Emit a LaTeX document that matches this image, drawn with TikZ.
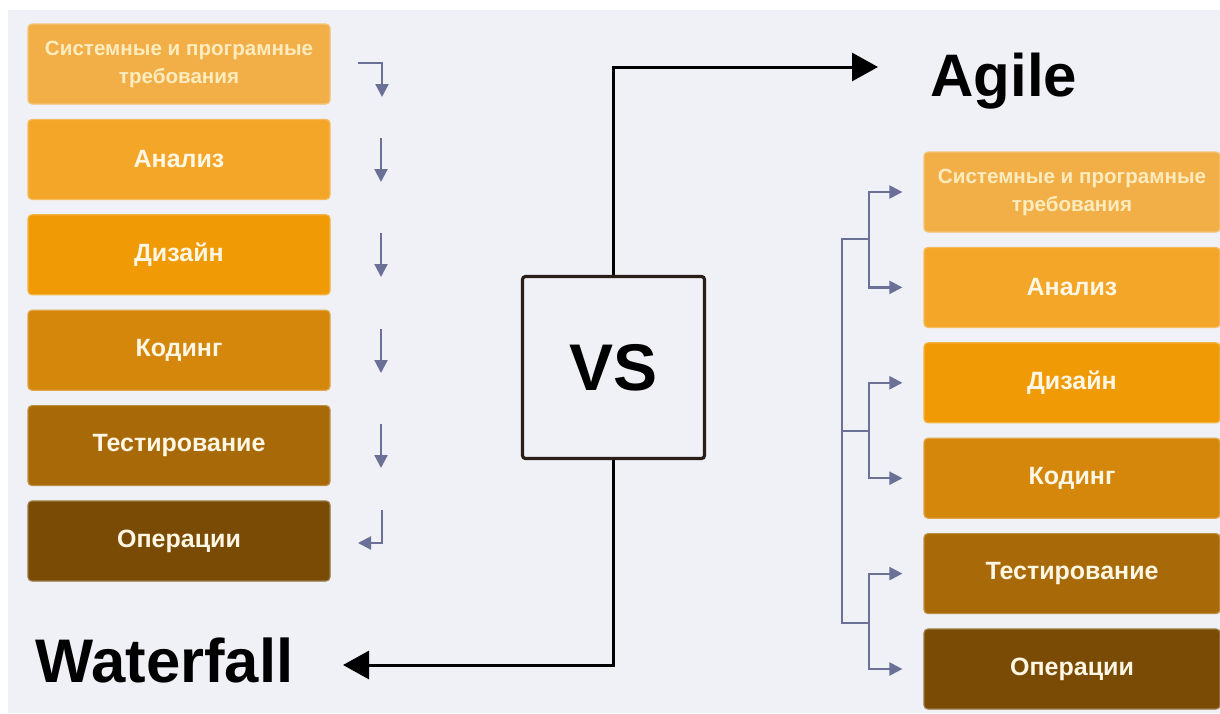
\documentclass[tikz,border=0pt]{standalone}
\usepackage{fontspec}
\setmainfont{Liberation Sans}
\usepackage{xcolor}
\usepackage{tikz}
\usetikzlibrary{positioning,calc,arrows.meta}

\definecolor{bgpanel}{RGB}{239,241,246}
\definecolor{stageA}{RGB}{242,175,72}
\definecolor{stageB}{RGB}{244,166,40}
\definecolor{stageC}{RGB}{240,154,6}
\definecolor{stageD}{RGB}{212,135,10}
\definecolor{stageE}{RGB}{168,106,8}
\definecolor{stageF}{RGB}{122,75,5}
\definecolor{stagetext}{RGB}{255,246,228}
\definecolor{firsttext}{RGB}{255,236,190}
\definecolor{flowcol}{RGB}{106,112,150}
\definecolor{vsline}{RGB}{40,32,24}

\begin{document}
\begin{tikzpicture}[
        x=0.5pt, y=-0.5pt,
        % stage boxes, colour given as argument
        stage/.style={
            rectangle,
            rounded corners=2pt,
            fill=#1,
            draw=#1!75!white,
            line width=0.6pt,
            minimum width=151pt,
            minimum height=40pt,
            inner sep=0pt,
            text=stagetext,
            font=\fontsize{12.5}{15}\selectfont\bfseries
        },
        % first stage has two lines
        firststage/.style={
            stage=stageA,
            text=firsttext,
            align=center,
            font=\fontsize{10.3}{14}\selectfont\bfseries
        },
        % the square in the middle
        vsbox/.style={
            rectangle,
            draw=vsline,
            fill=bgpanel,
            line width=1.6pt,
            rounded corners=1.5pt,
            minimum size=91pt,
            inner sep=0pt,
            font=\fontsize{33}{40}\selectfont\bfseries
        },
        % big titles
        title/.style={
            anchor=base west,
            inner sep=0pt,
            font=\fontsize{30}{36}\selectfont\bfseries
        },
        % black arrows from the square
        link/.style={
            draw=black,
            line width=1.5pt,
            -{Triangle[length=13pt,width=14pt]}
        },
        % small grey-blue arrows
        flow/.style={
            draw=flowcol,
            line width=1.1pt,
            -{Triangle[length=6.5pt,width=6.5pt]}
        },
        flowline/.style={
            draw=flowcol,
            line width=1.1pt
        }
    ]

        \useasboundingbox (0,0) rectangle (1220,713);
        \fill[bgpanel] (8,10) rectangle (1220,713);

        % --- WATERFALL (left column) ---
        \node[firststage] (wf1) at (179,64) {Системные и програмные\\требования};
        \node[stage=stageB] (wf2) at (179,159.4) {Анализ};
        \node[stage=stageC] (wf3) at (179,254.8) {Дизайн};
        \node[stage=stageD] (wf4) at (179,350.2) {Кодинг};
        \node[stage=stageE] (wf5) at (179,445.6) {Тестирование};
        \node[stage=stageF] (wf6) at (179,541) {Операции};

        % arrows next to the column
        \coordinate (f1s) at (358,63);
        \coordinate (f1e) at (382,97);
        \draw[flow] (f1s) -| (f1e);

        \coordinate (f2s) at (381,138);
        \coordinate (f2e) at (381,182);
        \draw[flow] (f2s) -- (f2e);

        \coordinate (f3s) at (381,233);
        \coordinate (f3e) at (381,277);
        \draw[flow] (f3s) -- (f3e);

        \coordinate (f4s) at (381,329);
        \coordinate (f4e) at (381,373);
        \draw[flow] (f4s) -- (f4e);

        \coordinate (f5s) at (381,424);
        \coordinate (f5e) at (381,468);
        \draw[flow] (f5s) -- (f5e);

        \coordinate (f6s) at (382,510);
        \coordinate (f6e) at (358,543);
        \draw[flow] (f6s) |- (f6e);

        % --- AGILE (right column) ---
        \node[firststage, minimum width=148pt] (ag1) at (1072,192) {Системные и програмные\\требования};
        \node[stage=stageB, minimum width=148pt] (ag2) at (1072,287.4) {Анализ};
        \node[stage=stageC, minimum width=148pt] (ag3) at (1072,382.8) {Дизайн};
        \node[stage=stageD, minimum width=148pt] (ag4) at (1072,478.2) {Кодинг};
        \node[stage=stageE, minimum width=148pt] (ag5) at (1072,573.6) {Тестирование};
        \node[stage=stageF, minimum width=148pt] (ag6) at (1072,669) {Операции};

        % brackets
        \coordinate (m1) at (842,239);
        \coordinate (m2) at (842,431);
        \coordinate (m3) at (842,623);
        \coordinate (j1) at (869,239);
        \coordinate (j2) at (869,431);
        \coordinate (j3) at (869,623);

        \draw[flowline] (j1) -- (m1) -- (m3) -- (j3);
        \draw[flowline] (m2) -- (j2);

        \draw[flow, shorten >=10.5pt] (j1) |- (ag1.west);
        \draw[flow, shorten >=10.5pt] (j1) |- (ag2.west);
        \draw[flow, shorten >=10.5pt] (j2) |- (ag3.west);
        \draw[flow, shorten >=10.5pt] (j2) |- (ag4.west);
        \draw[flow, shorten >=10.5pt] (j3) |- (ag5.west);
        \draw[flow, shorten >=10.5pt] (j3) |- (ag6.west);

        % --- VS AND TITLES ---
        \node[vsbox] (vs) at (613.5,367.5) {VS};

        \node[title] (agile) at (930,96) {Agile};
        \node[title, font=\fontsize{30.8}{36}\selectfont\bfseries] (waterfall) at (35,682) {Waterfall};

        \coordinate (agiletip) at (878,67);
        \coordinate (waterfalltip) at (343,665);
        \draw[link] (vs.north) |- (agiletip);
        \draw[link] (vs.south) |- (waterfalltip);

    \end{tikzpicture}
\end{document}
